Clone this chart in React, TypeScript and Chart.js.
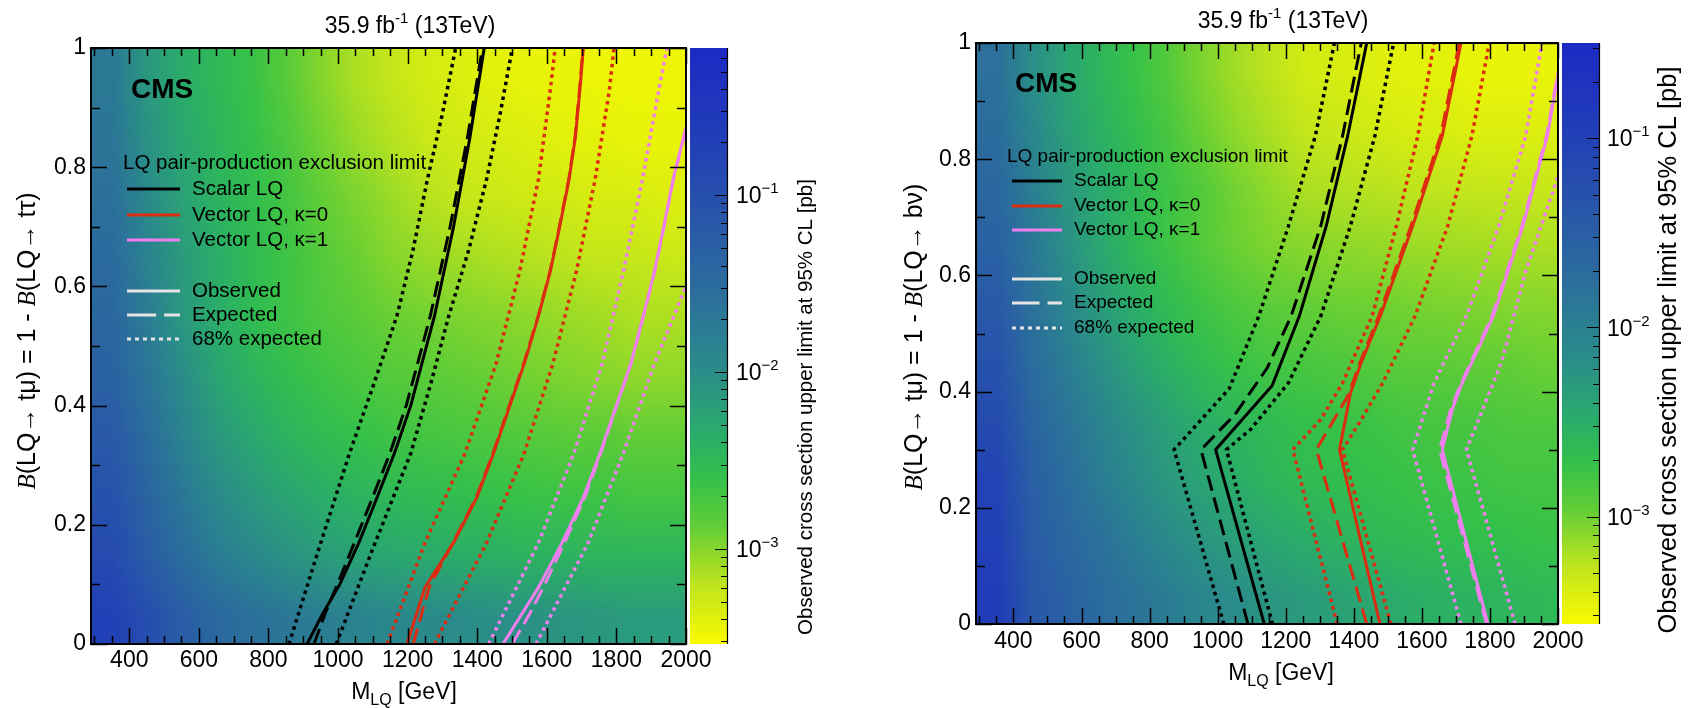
import { useEffect, useRef } from "react";
import { Chart, registerables } from "chart.js";

Chart.register(...registerables);

const SANS = "'Liberation Sans', Arial, Helvetica, sans-serif";
const SERIF = "'Liberation Serif', 'Times New Roman', serif";

// ---- binning and axis ticks ----
const massEdges = [300, 400, 500, 600, 700, 800, 900, 1000, 1100, 1200, 1300, 1400, 1500, 1600, 1700, 1800, 1900, 2000];
const branchingEdges = [0, 0.1, 0.2, 0.3, 0.4, 0.5, 0.6, 0.7, 0.8, 0.9, 1.0];
const massTicks = [400, 600, 800, 1000, 1200, 1400, 1600, 1800, 2000];
const branchingTicks = [0, 0.2, 0.4, 0.6, 0.8, 1];
const limitDecades = [-1, -2, -3];

// colour-axis ranges of the two limit maps [pb]
const tauLimitRange = [2.9e-4, 0.68];
const nuLimitRange = [2.7e-4, 0.32];

// log10 of the observed 95% CL cross section limit [pb]
// rows: B bins from 0-0.1 upward; columns: mass bins of massEdges
const tauLimitLog10 = [
  [-0.71, -0.98, -1.25, -1.45, -1.59, -1.69, -1.79, -1.86, -1.92, -1.96, -1.99, -2.02, -2.06, -2.09, -2.12, -2.16, -2.16],
  [-0.91, -1.25, -1.52, -1.75, -1.92, -2.06, -2.16, -2.23, -2.29, -2.33, -2.36, -2.39, -2.43, -2.43, -2.46, -2.46, -2.46],
  [-1.05, -1.38, -1.69, -1.96, -2.12, -2.26, -2.36, -2.43, -2.50, -2.53, -2.56, -2.60, -2.63, -2.66, -2.66, -2.70, -2.70],
  [-1.18, -1.52, -1.86, -2.12, -2.29, -2.43, -2.53, -2.60, -2.66, -2.70, -2.73, -2.76, -2.80, -2.83, -2.83, -2.87, -2.87],
  [-1.32, -1.65, -1.99, -2.26, -2.43, -2.56, -2.66, -2.73, -2.80, -2.83, -2.87, -2.90, -2.93, -2.97, -3.00, -3.03, -3.03],
  [-1.42, -1.75, -2.12, -2.36, -2.53, -2.66, -2.76, -2.83, -2.90, -2.93, -2.97, -3.00, -3.03, -3.07, -3.10, -3.14, -3.14],
  [-1.48, -1.86, -2.16, -2.36, -2.53, -2.66, -2.80, -2.90, -3.00, -3.07, -3.10, -3.14, -3.17, -3.20, -3.24, -3.24, -3.27],
  [-1.59, -1.96, -2.23, -2.43, -2.56, -2.70, -2.87, -2.97, -3.07, -3.17, -3.24, -3.27, -3.30, -3.30, -3.34, -3.34, -3.37],
  [-1.65, -2.06, -2.29, -2.46, -2.60, -2.76, -2.93, -3.07, -3.17, -3.27, -3.30, -3.34, -3.37, -3.41, -3.41, -3.44, -3.44],
  [-1.72, -2.12, -2.36, -2.50, -2.63, -2.83, -3.00, -3.14, -3.24, -3.32, -3.37, -3.41, -3.44, -3.44, -3.47, -3.47, -3.47],
];

const nuLimitLog10 = [
  [-0.93, -1.39, -1.54, -1.70, -1.82, -1.94, -2.07, -2.16, -2.25, -2.31, -2.37, -2.43, -2.50, -2.53, -2.56, -2.59, -2.62],
  [-0.99, -1.45, -1.64, -1.79, -1.97, -2.13, -2.25, -2.34, -2.43, -2.50, -2.56, -2.62, -2.65, -2.68, -2.71, -2.71, -2.74],
  [-1.05, -1.51, -1.73, -1.94, -2.13, -2.28, -2.40, -2.50, -2.59, -2.65, -2.68, -2.71, -2.74, -2.77, -2.77, -2.80, -2.80],
  [-1.18, -1.60, -1.82, -2.04, -2.22, -2.37, -2.50, -2.59, -2.65, -2.71, -2.74, -2.77, -2.80, -2.83, -2.83, -2.86, -2.86],
  [-1.30, -1.70, -1.94, -2.19, -2.37, -2.53, -2.65, -2.74, -2.80, -2.83, -2.86, -2.89, -2.93, -2.93, -2.96, -2.96, -2.99],
  [-1.42, -1.79, -2.07, -2.31, -2.50, -2.65, -2.77, -2.86, -2.93, -2.96, -2.99, -3.00, -3.02, -3.04, -3.05, -3.07, -3.08],
  [-1.54, -1.88, -2.19, -2.43, -2.62, -2.77, -2.89, -2.99, -3.05, -3.08, -3.10, -3.12, -3.14, -3.16, -3.17, -3.19, -3.20],
  [-1.64, -1.97, -2.25, -2.46, -2.62, -2.77, -2.89, -3.02, -3.11, -3.20, -3.22, -3.24, -3.26, -3.27, -3.29, -3.30, -3.30],
  [-1.73, -2.07, -2.34, -2.53, -2.68, -2.83, -2.99, -3.11, -3.20, -3.29, -3.32, -3.36, -3.39, -3.39, -3.42, -3.42, -3.42],
  [-1.79, -2.16, -2.40, -2.59, -2.74, -2.89, -3.05, -3.17, -3.26, -3.36, -3.39, -3.42, -3.45, -3.45, -3.48, -3.48, -3.48],
];

// ---- exclusion contours, points are [M_LQ (GeV), B] ----
// t-mu / t-tau channel
const tauScalarObs: [number, number][] = [[911, 0], [955, 0.05], [1005, 0.1], [1060, 0.17], [1115, 0.25], [1162, 0.32], [1209, 0.4], [1277, 0.55], [1332, 0.7], [1379, 0.85], [1420, 1.0]];
const tauScalarExp: [number, number][] = [[931, 0], [962, 0.05], [998, 0.1], [1047, 0.17], [1102, 0.25], [1149, 0.32], [1196, 0.4], [1265, 0.55], [1322, 0.7], [1372, 0.85], [1415, 1.0]];
const tauScalarExpLow: [number, number][] = [[859, 0], [945, 0.16], [1033, 0.32], [1105, 0.44], [1169, 0.55], [1215, 0.66], [1257, 0.78], [1300, 0.89], [1338, 1.0]];
const tauScalarExpHigh: [number, number][] = [[995, 0], [1100, 0.16], [1209, 0.32], [1268, 0.44], [1318, 0.55], [1375, 0.66], [1427, 0.78], [1466, 0.89], [1501, 1.0]];
const tauVectorK0Obs: [number, number][] = [[1198, 0], [1250, 0.095], [1332, 0.17], [1399, 0.246], [1447, 0.32], [1494, 0.4], [1535, 0.47], [1576, 0.55], [1610, 0.625], [1637, 0.7], [1664, 0.78], [1682, 0.85], [1695, 0.93], [1705, 1.0]];
const tauVectorK0Exp: [number, number][] = [[1216, 0], [1240, 0.05], [1262, 0.095], [1330, 0.17], [1397, 0.246], [1445, 0.32], [1492, 0.4], [1533, 0.47], [1575, 0.55], [1609, 0.625], [1636, 0.7], [1663, 0.78], [1681, 0.85], [1694, 0.93], [1704, 1.0]];
const tauVectorK0ExpLow: [number, number][] = [[1141, 0], [1250, 0.17], [1365, 0.32], [1454, 0.47], [1522, 0.625], [1576, 0.78], [1610, 0.93], [1624, 1.0]];
const tauVectorK0ExpHigh: [number, number][] = [[1277, 0], [1427, 0.17], [1535, 0.32], [1617, 0.47], [1685, 0.625], [1739, 0.78], [1780, 0.93], [1793, 1.0]];
const tauVectorK1Obs: [number, number][] = [[1474, 0], [1576, 0.095], [1644, 0.17], [1705, 0.246], [1753, 0.32], [1800, 0.4], [1841, 0.47], [1877, 0.55], [1909, 0.625], [1936, 0.7], [1963, 0.78], [2000, 0.867]];
const tauVectorK1Exp: [number, number][] = [[1501, 0], [1550, 0.05], [1590, 0.095], [1651, 0.17], [1709, 0.246], [1755, 0.32], [1801, 0.4], [1842, 0.47], [1878, 0.55], [1910, 0.625], [1937, 0.7], [1964, 0.78], [2000, 0.865]];
const tauVectorK1ExpLow: [number, number][] = [[1433, 0], [1576, 0.17], [1678, 0.32], [1759, 0.47], [1820, 0.625], [1875, 0.78], [1922, 0.93], [1945, 1.0]];
const tauVectorK1ExpHigh: [number, number][] = [[1569, 0], [1719, 0.17], [1820, 0.32], [1909, 0.47], [2000, 0.6]];

// t-mu / b-nu channel
const nuScalarObs: [number, number][] = [[1137, 0], [994, 0.3], [1160, 0.41], [1240, 0.53], [1319, 0.685], [1382, 0.84], [1438, 1.0]];
const nuScalarExp: [number, number][] = [[1089, 0], [951, 0.3], [1050, 0.36], [1145, 0.44], [1216, 0.53], [1303, 0.685], [1367, 0.84], [1422, 1.0]];
const nuScalarExpLow: [number, number][] = [[1018, 0], [872, 0.3], [1034, 0.405], [1121, 0.53], [1208, 0.685], [1287, 0.84], [1343, 1.0]];
const nuScalarExpHigh: [number, number][] = [[1161, 0], [1026, 0.3], [1097, 0.335], [1208, 0.415], [1303, 0.53], [1390, 0.685], [1462, 0.84], [1517, 1.0]];
const nuVectorK0Obs: [number, number][] = [[1477, 0], [1358, 0.3], [1390, 0.397], [1422, 0.45], [1478, 0.53], [1573, 0.685], [1660, 0.84], [1715, 1.0]];
const nuVectorK0Exp: [number, number][] = [[1438, 0], [1290, 0.3], [1375, 0.385], [1388, 0.4], [1418, 0.45], [1473, 0.53], [1568, 0.685], [1655, 0.84], [1710, 1.0]];
const nuVectorK0ExpLow: [number, number][] = [[1351, 0], [1221, 0.3], [1303, 0.352], [1367, 0.415], [1454, 0.53], [1525, 0.685], [1588, 0.84], [1636, 1.0]];
const nuVectorK0ExpHigh: [number, number][] = [[1509, 0], [1367, 0.3], [1420, 0.35], [1485, 0.415], [1580, 0.53], [1676, 0.685], [1747, 0.84], [1798, 1.0]];
const nuVectorK1Obs: [number, number][] = [[1794, 0], [1660, 0.3], [1690, 0.37], [1715, 0.41], [1810, 0.53], [1897, 0.685], [1969, 0.84], [2000, 0.945]];
const nuVectorK1Exp: [number, number][] = [[1790, 0], [1652, 0.3], [1685, 0.37], [1712, 0.41], [1806, 0.53], [1894, 0.685], [1966, 0.84], [2000, 0.95]];
const nuVectorK1ExpLow: [number, number][] = [[1715, 0], [1573, 0.3], [1636, 0.415], [1731, 0.53], [1826, 0.685], [1905, 0.84], [1953, 1.0]];
const nuVectorK1ExpHigh: [number, number][] = [[1874, 0], [1731, 0.3], [1834, 0.45], [1905, 0.607], [2000, 0.77]];

// ---- styling ----
const SCALAR_COLOR = "#000000";
const K0_COLOR = "#dc2c12";
const K1_COLOR = "#ef7fef";
const LEGEND_GREY = "#e4e4e4";

type Style = "solid" | "dashed" | "dotted";
interface Curve { pts: [number, number][]; color: string; style: Style; }

const DASH: Record<Style, number[]> = { solid: [], dashed: [16, 7], dotted: [3.5, 4] };

function contourSet(obs: [number, number][], exp: [number, number][], lo: [number, number][], hi: [number, number][], color: string): Curve[] {
  return [
    { pts: lo, color, style: "dotted" },
    { pts: hi, color, style: "dotted" },
    { pts: exp, color, style: "dashed" },
    { pts: obs, color, style: "solid" },
  ];
}

const paletteStops: [number, number[]][] = [
  [0.0, [250, 250, 0]],
  [0.1, [190, 228, 30]],
  [0.2, [95, 205, 55]],
  [0.28, [50, 192, 75]],
  [0.36, [42, 170, 110]],
  [0.46, [42, 140, 138]],
  [0.58, [44, 112, 155]],
  [0.72, [40, 85, 170]],
  [0.86, [33, 60, 185]],
  [1.0, [28, 42, 195]],
];

function paletteRgb(f: number): number[] {
  const t = Math.min(1, Math.max(0, f));
  for (let i = 1; i < paletteStops.length; i++) {
    const [p1, c1] = paletteStops[i];
    const [p0, c0] = paletteStops[i - 1];
    if (t <= p1) {
      const u = (t - p0) / (p1 - p0);
      return c0.map((v, k) => Math.round(v + (c1[k] - v) * u));
    }
  }
  return paletteStops[paletteStops.length - 1][1];
}
function paletteColor(f: number): string {
  const c = paletteRgb(f);
  return `rgb(${c[0]},${c[1]},${c[2]})`;
}

interface Seg { t: string; font: string; dy?: number; }

interface PanelLayout {
  left: number; width: number; height: number;
  frame: [number, number, number, number];
  cbLeft: number; cbRight: number;
  title: [number, number];
  xLabelY: number; yLabelRight: number;
  xTitle: [number, number];
  yTitle: [number, number];
  cms: [number, number];
  legendFont: number;
  legendHeader: [number, number];
  legendLine: [number, number];
  legendText: number;
  legendRows: number[];
  cbLabelX: number;
  cbTitle: [number, number];
  cbTitleFont: number;
}

interface PanelSpec {
  layout: PanelLayout;
  limits: number[][];
  range: number[];
  curves: Curve[];
  yTitle: Seg[];
}

function segWidth(ctx: CanvasRenderingContext2D, segs: Seg[]) {
  let w = 0;
  for (const s of segs) { ctx.font = s.font; w += ctx.measureText(s.t).width; }
  return w;
}
function drawSegs(ctx: CanvasRenderingContext2D, segs: Seg[], x: number, baseline: number) {
  let cx = x;
  for (const s of segs) {
    ctx.font = s.font;
    ctx.fillText(s.t, cx, baseline + (s.dy || 0));
    cx += ctx.measureText(s.t).width;
  }
}

const f = (px: number, extra = "") => `${extra}${px}px ${SANS}`;

const legendItems = [
  { label: "Scalar LQ", color: SCALAR_COLOR, style: "solid" as Style },
  { label: "Vector LQ, \u03ba=0", color: K0_COLOR, style: "solid" as Style },
  { label: "Vector LQ, \u03ba=1", color: K1_COLOR, style: "solid" as Style },
  { label: "Observed", color: LEGEND_GREY, style: "solid" as Style },
  { label: "Expected", color: LEGEND_GREY, style: "dashed" as Style },
  { label: "68% expected", color: LEGEND_GREY, style: "dotted" as Style },
];

// limit map: one texel per bin (edge bins repeated as a border), shaded smoothly between bin centres
function makeMapPlugin(spec: PanelSpec) {
  return {
    id: "limitMap",
    beforeDatasetsDraw(chart: any) {
      const { ctx, chartArea: a, scales } = chart;
      const xs = scales.x, ys = scales.y, zs = scales.z;
      const zTop = zs.getPixelForValue(spec.range[1]);
      const zBot = zs.getPixelForValue(spec.range[0]);
      const rows = spec.limits.length;
      const cols = spec.limits[0].length;
      const off = document.createElement("canvas");
      off.width = cols + 2;
      off.height = rows + 2;
      const octx = off.getContext("2d") as CanvasRenderingContext2D;
      const img = octx.createImageData(cols + 2, rows + 2);
      for (let j = 0; j < rows + 2; j++) {
        const r = Math.min(rows - 1, Math.max(0, rows - j));
        for (let i = 0; i < cols + 2; i++) {
          const c = Math.min(cols - 1, Math.max(0, i - 1));
          const py = zs.getPixelForValue(Math.pow(10, spec.limits[r][c]));
          const rgb = paletteRgb((zBot - py) / (zBot - zTop));
          const k = (j * (cols + 2) + i) * 4;
          img.data[k] = rgb[0];
          img.data[k + 1] = rgb[1];
          img.data[k + 2] = rgb[2];
          img.data[k + 3] = 255;
        }
      }
      octx.putImageData(img, 0, 0);
      const dm = massEdges[1] - massEdges[0];
      const db = branchingEdges[1] - branchingEdges[0];
      const x0 = xs.getPixelForValue(massEdges[0] - dm);
      const x1 = xs.getPixelForValue(massEdges[massEdges.length - 1] + dm);
      const y0 = ys.getPixelForValue(branchingEdges[branchingEdges.length - 1] + db);
      const y1 = ys.getPixelForValue(branchingEdges[0] - db);
      ctx.save();
      ctx.beginPath();
      ctx.rect(a.left, a.top, a.right - a.left, a.bottom - a.top);
      ctx.clip();
      ctx.imageSmoothingEnabled = true;
      ctx.imageSmoothingQuality = "low";
      ctx.drawImage(off, x0, y0, x1 - x0, y1 - y0);
      ctx.restore();
    },
  };
}

function makeDecorPlugin(spec: PanelSpec) {
  const L = spec.layout;
  return {
    id: "decor",
    afterDatasetsDraw(chart: any) {
      const { ctx, chartArea: a, scales } = chart;
      const xs = scales.x, ys = scales.y, zs = scales.z;
      ctx.save();

      // colour bar
      const zTop = zs.getPixelForValue(spec.range[1]);
      const zBot = zs.getPixelForValue(spec.range[0]);
      for (let py = Math.floor(zTop); py < zBot; py++) {
        ctx.fillStyle = paletteColor((zBot - (py + 0.5)) / (zBot - zTop));
        ctx.fillRect(L.cbLeft, py, L.cbRight - L.cbLeft, 1);
      }
      ctx.strokeStyle = "#000";
      ctx.lineWidth = 1.2;
      ctx.beginPath();
      ctx.moveTo(L.cbRight + 0.5, zTop);
      ctx.lineTo(L.cbRight + 0.5, zBot);
      for (let d = -4; d <= 0; d++) {
        for (let k = 1; k <= 9; k++) {
          const v = k * Math.pow(10, d);
          if (v < spec.range[0] || v > spec.range[1]) continue;
          const py = Math.round(zs.getPixelForValue(v)) + 0.5;
          const len = k === 1 ? 12 : 6;
          ctx.moveTo(L.cbRight, py);
          ctx.lineTo(L.cbRight - len, py);
        }
      }
      ctx.stroke();

      ctx.fillStyle = "#000";
      ctx.textAlign = "left";
      ctx.textBaseline = "alphabetic";
      for (const d of limitDecades) {
        const py = zs.getPixelForValue(Math.pow(10, d));
        drawSegs(ctx, [
          { t: "10", font: f(23) },
          { t: "\u2212" + String(-d), font: f(15), dy: -10 },
        ], L.cbLabelX, py + 8);
      }

      // colour axis title
      ctx.save();
      ctx.translate(L.cbTitle[0], L.cbTitle[1]);
      ctx.rotate(-Math.PI / 2);
      ctx.font = f(L.cbTitleFont);
      ctx.textAlign = "center";
      ctx.textBaseline = "middle";
      ctx.fillText("Observed cross section upper limit at 95% CL [pb]", 0, 0);
      ctx.restore();

      // frame ticks
      ctx.strokeStyle = "#000";
      ctx.lineWidth = 1.5;
      ctx.beginPath();
      for (let m = 300; m <= 2000; m += 50) {
        const px = Math.round(xs.getPixelForValue(m)) + 0.5;
        const len = m % 200 === 0 ? 16 : 8;
        ctx.moveTo(px, a.bottom); ctx.lineTo(px, a.bottom - len);
        ctx.moveTo(px, a.top); ctx.lineTo(px, a.top + len);
      }
      for (let i = 0; i <= 10; i++) {
        const py = Math.round(ys.getPixelForValue(i / 10)) + 0.5;
        const len = i % 2 === 0 ? 16 : 9;
        ctx.moveTo(a.left, py); ctx.lineTo(a.left + len, py);
        ctx.moveTo(a.right, py); ctx.lineTo(a.right - len, py);
      }
      ctx.stroke();
      ctx.lineWidth = 2;
      ctx.strokeRect(a.left, a.top, a.right - a.left, a.bottom - a.top);

      // tick labels
      ctx.fillStyle = "#000";
      ctx.font = f(23);
      ctx.textAlign = "center";
      ctx.textBaseline = "middle";
      for (const m of massTicks) ctx.fillText(String(m), xs.getPixelForValue(m), L.xLabelY);
      ctx.textAlign = "right";
      for (const b of branchingTicks) ctx.fillText(String(b), L.yLabelRight, ys.getPixelForValue(b));

      // axis titles
      ctx.textAlign = "left";
      ctx.textBaseline = "alphabetic";
      const xt: Seg[] = [
        { t: "M", font: f(23) },
        { t: "LQ", font: f(16), dy: 6 },
        { t: " [GeV]", font: f(23) },
      ];
      drawSegs(ctx, xt, L.xTitle[0] - segWidth(ctx, xt) / 2, L.xTitle[1] + 8);

      ctx.save();
      ctx.translate(L.yTitle[0], L.yTitle[1]);
      ctx.rotate(-Math.PI / 2);
      drawSegs(ctx, spec.yTitle, -segWidth(ctx, spec.yTitle) / 2, 9);
      ctx.restore();

      const tt: Seg[] = [
        { t: "35.9 fb", font: f(23) },
        { t: "-1", font: f(15), dy: -10 },
        { t: " (13TeV)", font: f(23) },
      ];
      drawSegs(ctx, tt, L.title[0] - segWidth(ctx, tt) / 2, L.title[1] + 8);

      // CMS label
      ctx.font = f(28, "bold ");
      ctx.textBaseline = "middle";
      ctx.fillText("CMS", L.cms[0], L.cms[1]);

      // legend
      ctx.font = f(L.legendFont);
      ctx.fillText("LQ pair-production exclusion limit", L.legendHeader[0], L.legendHeader[1]);
      legendItems.forEach((it, i) => {
        const y = L.legendRows[i];
        ctx.strokeStyle = it.color;
        ctx.lineWidth = 3;
        ctx.beginPath();
        if (it.style === "dashed") {
          ctx.setLineDash([]);
          const x0 = L.legendLine[0], x1 = L.legendLine[1];
          const mid = x0 + (x1 - x0) * 0.55;
          ctx.moveTo(x0, y); ctx.lineTo(mid, y);
          ctx.moveTo(mid + 8, y); ctx.lineTo(x1, y);
        } else {
          ctx.setLineDash(it.style === "dotted" ? [4, 4] : []);
          ctx.moveTo(L.legendLine[0], y); ctx.lineTo(L.legendLine[1], y);
        }
        ctx.stroke();
        ctx.setLineDash([]);
        ctx.fillStyle = "#000";
        ctx.font = f(L.legendFont);
        ctx.fillText(it.label, L.legendText, y);
      });

      ctx.restore();
    },
  };
}

function Panel({ spec }: { spec: PanelSpec }) {
  const ref = useRef<HTMLCanvasElement | null>(null);
  useEffect(() => {
    const L = spec.layout;
    const [fl, ft, fr, fb] = L.frame;
    const chart = new Chart(ref.current as HTMLCanvasElement, {
      type: "scatter",
      data: {
        datasets: spec.curves.map((c) => ({
          data: c.pts.map(([m, b]) => ({ x: m, y: b })),
          showLine: true,
          borderColor: c.color,
          backgroundColor: c.color,
          borderWidth: c.style === "dotted" ? 3.5 : 3,
          borderDash: DASH[c.style],
          borderCapStyle: "butt",
          pointRadius: 0,
          fill: false,
          tension: 0,
          clip: 0,
        })),
      },
      options: {
        responsive: false,
        animation: false,
        devicePixelRatio: 1,
        events: [],
        layout: { padding: { left: fl, top: ft, right: L.width - fr, bottom: L.height - fb } },
        plugins: { legend: { display: false }, tooltip: { enabled: false } },
        scales: {
          x: { type: "linear", min: 290, max: 2000, display: false },
          y: { type: "linear", min: 0, max: 1, display: false },
          z: { type: "logarithmic", axis: "y", position: "right", min: spec.range[0], max: spec.range[1], display: false },
        },
      } as any,
      plugins: [makeMapPlugin(spec), makeDecorPlugin(spec)],
    });
    return () => chart.destroy();
  }, [spec]);
  const L = spec.layout;
  return (
    <canvas
      ref={ref}
      width={L.width}
      height={L.height}
      style={{ position: "absolute", left: L.left, top: 0, width: L.width, height: L.height }}
    />
  );
}

const Y_TITLE_SIZE = 25;

const tauPanel: PanelSpec = {
  layout: {
    left: 0, width: 847, height: 708,
    frame: [91, 48, 686, 644],
    cbLeft: 690, cbRight: 727,
    title: [410, 25],
    xLabelY: 661, yLabelRight: 86,
    xTitle: [404, 691],
    yTitle: [26, 341],
    cms: [131, 90],
    legendFont: 20.5,
    legendHeader: [123, 163],
    legendLine: [127, 180],
    legendText: 192,
    legendRows: [189, 215, 240, 291, 315, 339],
    cbLabelX: 736,
    cbTitle: [806, 407],
    cbTitleFont: 20.5,
  },
  limits: tauLimitLog10,
  range: tauLimitRange,
  curves: [
    ...contourSet(tauScalarObs, tauScalarExp, tauScalarExpLow, tauScalarExpHigh, SCALAR_COLOR),
    ...contourSet(tauVectorK0Obs, tauVectorK0Exp, tauVectorK0ExpLow, tauVectorK0ExpHigh, K0_COLOR),
    ...contourSet(tauVectorK1Obs, tauVectorK1Exp, tauVectorK1ExpLow, tauVectorK1ExpHigh, K1_COLOR),
  ],
  yTitle: [
    { t: "B", font: `italic ${Y_TITLE_SIZE}px ${SERIF}` },
    { t: "(LQ\u2192 t\u03bc) = 1 - ", font: f(Y_TITLE_SIZE) },
    { t: "B", font: `italic ${Y_TITLE_SIZE}px ${SERIF}` },
    { t: "(LQ\u2192 t\u03c4)", font: f(Y_TITLE_SIZE) },
  ],
};

const nuPanel: PanelSpec = {
  layout: {
    left: 847, width: 847, height: 708,
    frame: [129, 43, 711, 624],
    cbLeft: 715, cbRight: 752,
    title: [436, 20],
    xLabelY: 642, yLabelRight: 124,
    xTitle: [434, 672],
    yTitle: [66, 337],
    cms: [168, 84],
    legendFont: 19,
    legendHeader: [160, 157],
    legendLine: [165, 215],
    legendText: 227,
    legendRows: [181, 206, 230, 279, 303, 328],
    cbLabelX: 760,
    cbTitle: [822, 350],
    cbTitleFont: 25.5,
  },
  limits: nuLimitLog10,
  range: nuLimitRange,
  curves: [
    ...contourSet(nuScalarObs, nuScalarExp, nuScalarExpLow, nuScalarExpHigh, SCALAR_COLOR),
    ...contourSet(nuVectorK0Obs, nuVectorK0Exp, nuVectorK0ExpLow, nuVectorK0ExpHigh, K0_COLOR),
    ...contourSet(nuVectorK1Obs, nuVectorK1Exp, nuVectorK1ExpLow, nuVectorK1ExpHigh, K1_COLOR),
  ],
  yTitle: [
    { t: "B", font: `italic ${Y_TITLE_SIZE}px ${SERIF}` },
    { t: "(LQ\u2192 t\u03bc) = 1 - ", font: f(Y_TITLE_SIZE) },
    { t: "B", font: `italic ${Y_TITLE_SIZE}px ${SERIF}` },
    { t: "(LQ\u2192 b\u03bd)", font: f(Y_TITLE_SIZE) },
  ],
};

export default function App() {
  return (
    <div style={{ position: "absolute", left: 0, top: 0, width: 1694, height: 708, background: "#ffffff", overflow: "hidden" }}>
      <Panel spec={tauPanel} />
      <Panel spec={nuPanel} />
    </div>
  );
}
